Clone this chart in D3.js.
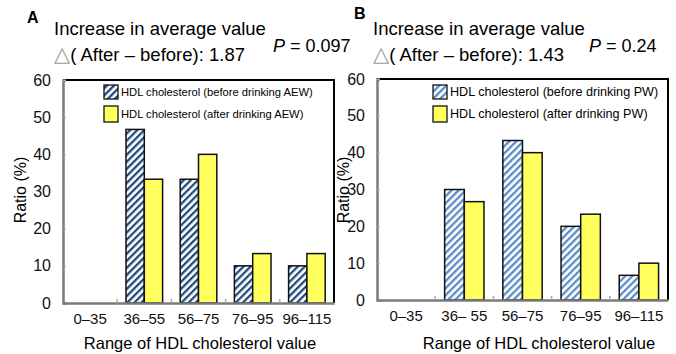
<!DOCTYPE html>
<html>
<head>
<meta charset="utf-8">
<script src="https://cdn.jsdelivr.net/npm/d3@7"></script>
<style>
  body { margin: 0; background: #fff; }
  svg { display: block; font-family: "Liberation Sans", Arial, sans-serif; }
</style>
</head>
<body>
<svg id="chart" width="676" height="354"></svg>
<script>
// data
var categories = ["0\u201335", "36\u201355", "56\u201375", "76\u201395", "96\u2013115"];
var categoriesB = ["0\u201335", "36\u2013 55", "56\u201375", "76\u201395", "96\u2013115"];
var beforeAEW = [0, 46.7, 33.3, 10, 10];
var afterAEW = [0, 33.3, 40, 13.3, 13.3];
var beforePW = [0, 30, 43.3, 20, 6.7];
var afterPW = [0, 26.7, 40, 23.3, 10];
var yTicks = [0, 10, 20, 30, 40, 50, 60];

var svg = d3.select("#chart");
var defs = svg.append("defs");

// hatch patterns for the "before" bars
function hatch(id, color) {
    var p = defs.append("pattern")
        .attr("id", id)
        .attr("patternUnits", "userSpaceOnUse")
        .attr("width", 5)
        .attr("height", 5)
        .attr("patternTransform", "rotate(45)");
    p.append("rect").attr("width", 5).attr("height", 5).attr("fill", "#fff");
    p.append("rect").attr("width", 2.3).attr("height", 5).attr("fill", color);
}
hatch("hatchA", "#1f4a7a");
hatch("hatchB", "#5a8cc6");

var panels = [
    {
        letter: "A", letterX: 27, letterY: 23,
        titleX: 54, delta: "1.87", pText: "0.097", pX: 273,
        left: 63, right: 334, top: 80, bottom: 303,
        cats: categories, before: beforeAEW, after: afterAEW,
        hatch: "url(#hatchA)", water: "AEW",
        legX: 104, legFont: 11.2, ratioX: 20, xTitleX: 200
    },
    {
        letter: "B", letterX: 354, letterY: 19,
        titleX: 373, delta: "1.43", pText: "0.24", pX: 589,
        left: 377, right: 668, top: 79, bottom: 300,
        cats: categoriesB, before: beforePW, after: afterPW,
        hatch: "url(#hatchB)", water: "PW",
        legX: 433, legFont: 12.6, ratioX: 343, xTitleX: 539
    }
];

panels.forEach(function(c) {
    var g = svg.append("g");

    // titles
    g.append("text")
        .attr("x", c.letterX).attr("y", c.letterY)
        .style("font-size", "16px").style("font-weight", "bold")
        .text(c.letter);
    g.append("text")
        .attr("x", c.titleX).attr("y", 35)
        .style("font-size", "18.5px")
        .text("Increase in average value");
    var dl = g.append("text")
        .attr("x", c.titleX).attr("y", 61)
        .style("font-size", "18.5px");
    dl.append("tspan").attr("fill", "#9a9a9a").style("font-family", "DejaVu Sans").style("font-size", "21px").text("\u25b3");
    dl.append("tspan").text("( After \u2013 before): " + c.delta);
    var pt = g.append("text")
        .attr("x", c.pX).attr("y", 52)
        .style("font-size", "18px");
    pt.append("tspan").style("font-style", "italic").text("P");
    pt.append("tspan").text(" = " + c.pText);

    // scales
    var x = d3.scaleBand()
        .domain(c.cats)
        .range([c.left, c.right]);
    var x1 = d3.scaleBand()
        .domain(["before", "after"])
        .range([0, x.bandwidth()])
        .paddingOuter(0.48)
        .paddingInner(0);
    var y = d3.scaleLinear()
        .domain([0, 60])
        .range([c.bottom, c.top]);

    // frame top and right
    g.append("path")
        .attr("d", "M" + c.left + "," + c.top + "H" + c.right + "V" + c.bottom)
        .attr("fill", "none")
        .attr("stroke", "#000")
        .attr("stroke-width", 2);

    // bars
    var groups = g.selectAll(".grp")
        .data(c.cats)
        .enter().append("g")
        .attr("transform", function(d) { return "translate(" + x(d) + ",0)"; });
    groups.filter(function(d, i) { return c.before[i] > 0; })
        .append("rect")
        .attr("x", x1("before"))
        .attr("y", function(d) { return y(c.before[c.cats.indexOf(d)]); })
        .attr("width", x1.bandwidth())
        .attr("height", function(d) { return c.bottom - y(c.before[c.cats.indexOf(d)]); })
        .attr("fill", c.hatch)
        .attr("stroke", "#111")
        .attr("stroke-width", 1.5);
    groups.filter(function(d, i) { return c.after[i] > 0; })
        .append("rect")
        .attr("x", x1("after"))
        .attr("y", function(d) { return y(c.after[c.cats.indexOf(d)]); })
        .attr("width", x1.bandwidth())
        .attr("height", function(d) { return c.bottom - y(c.after[c.cats.indexOf(d)]); })
        .attr("fill", "#ffff5e")
        .attr("stroke", "#111")
        .attr("stroke-width", 1.5);

    // y axis
    var yAxis = g.append("g")
        .attr("transform", "translate(" + c.left + ",0)")
        .call(d3.axisLeft(y).tickValues(yTicks).tickSize(-3).tickPadding(12));
    yAxis.select(".domain").attr("stroke", "#7a7a7a").attr("stroke-width", 2.5);
    yAxis.selectAll(".tick line").attr("stroke", "#aaa");
    yAxis.selectAll("text")
        .style("font-size", "16px")
        .style("font-family", "Liberation Sans, Arial, sans-serif")
        .attr("fill", "#111");

    // x axis
    var xAxis = g.append("g")
        .attr("transform", "translate(0," + c.bottom + ")")
        .call(d3.axisBottom(x).tickSize(0).tickPadding(10).tickSizeOuter(0));
    xAxis.select(".domain").attr("stroke", "#7a7a7a").attr("stroke-width", 2.5);
    xAxis.selectAll("text")
        .style("font-size", "15px")
        .style("font-family", "Liberation Sans, Arial, sans-serif")
        .attr("fill", "#111");

    // boundary ticks between categories
    g.selectAll(".btick")
        .data(c.cats.slice(1))
        .enter().append("line")
        .attr("x1", function(d) { return x(d); })
        .attr("x2", function(d) { return x(d); })
        .attr("y1", c.bottom)
        .attr("y2", c.bottom - 4)
        .attr("stroke", "#aaa")
        .attr("stroke-width", 1.5);

    // axis titles
    g.append("text")
        .attr("transform", "translate(" + c.ratioX + "," + 190 + ") rotate(-90)")
        .attr("text-anchor", "middle")
        .attr("dy", "0.35em")
        .style("font-size", "16px")
        .text("Ratio (%)");
    g.append("text")
        .attr("x", c.xTitleX).attr("y", 349)
        .attr("text-anchor", "middle")
        .style("font-size", "16.5px")
        .text("Range of HDL cholesterol value");

    // legend
    var leg = g.append("g");
    leg.append("rect")
        .attr("x", c.legX).attr("y", 85).attr("width", 14).attr("height", 14)
        .attr("fill", c.hatch).attr("stroke", "#111").attr("stroke-width", 1.3);
    leg.append("rect")
        .attr("x", c.legX).attr("y", 106).attr("width", 14).attr("height", 16)
        .attr("fill", "#ffff5e").attr("stroke", "#111").attr("stroke-width", 1.3);
    leg.append("text")
        .attr("x", c.legX + 17).attr("y", 92).attr("dy", "0.35em")
        .style("font-size", c.legFont + "px")
        .text("HDL cholesterol (before drinking " + c.water + ")");
    leg.append("text")
        .attr("x", c.legX + 17).attr("y", 114).attr("dy", "0.35em")
        .style("font-size", c.legFont + "px")
        .text("HDL cholesterol (after drinking " + c.water + ")");
});
</script>
</body>
</html>
